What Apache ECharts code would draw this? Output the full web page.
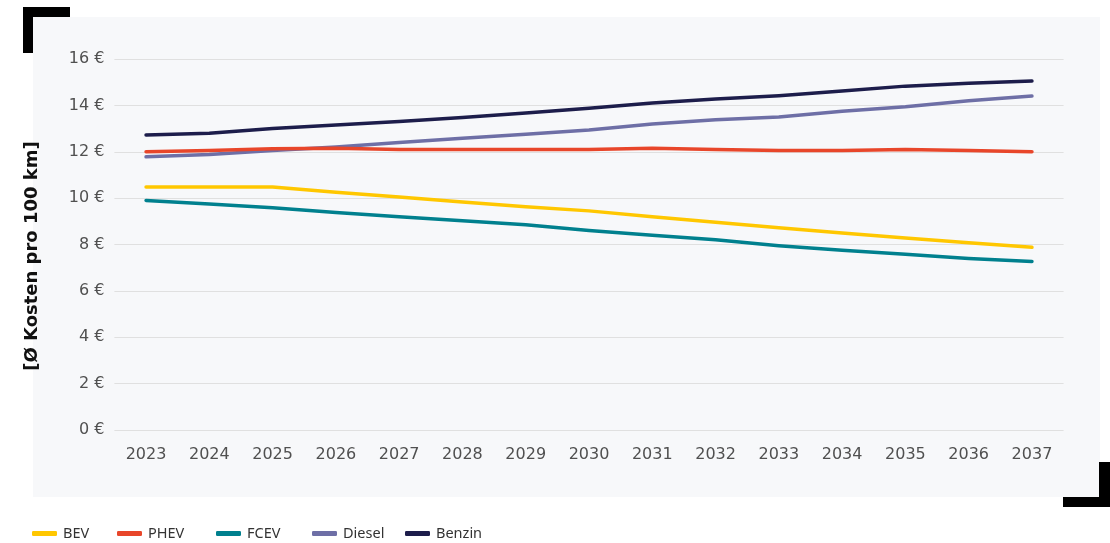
<!DOCTYPE html>
<html><head><meta charset="utf-8">
<script src="https://cdn.jsdelivr.net/npm/echarts@6/dist/echarts.min.js"></script>
<style>html,body{margin:0;padding:0;background:#fff}#c{width:1110px;height:543px}</style>
</head><body><div id="c"></div>
<script>
const years = ['2023','2024','2025','2026','2027','2028','2029','2030','2031','2032','2033','2034','2035','2036','2037'];
const bev    = [10.48,10.48,10.48,10.25,10.05,9.83,9.63,9.45,9.2,8.96,8.72,8.5,8.28,8.08,7.88];
const phev   = [12.0,12.05,12.13,12.15,12.1,12.1,12.1,12.1,12.15,12.1,12.05,12.05,12.1,12.05,12.0];
const fcev   = [9.9,9.75,9.58,9.38,9.2,9.02,8.85,8.6,8.4,8.2,7.95,7.75,7.58,7.4,7.27];
const diesel = [11.78,11.88,12.05,12.2,12.4,12.58,12.75,12.94,13.2,13.38,13.5,13.75,13.94,14.2,14.4];
const benzin = [12.72,12.8,13.0,13.15,13.3,13.48,13.67,13.88,14.1,14.27,14.42,14.62,14.83,14.95,15.05];
const yTicks = [0,2,4,6,8,10,12,14,16];
const names = ['BEV','PHEV','FCEV','Diesel','Benzin'];
const colors = ['#ffc700','#e8462a','#00808e','#6e6fa6','#1d1d4b'];
const values = [bev, phev, fcev, diesel, benzin];
const legendLeft = [32,117,216,312,405];

const chart = echarts.init(document.getElementById('c'), null, {renderer:'canvas'});
const series = names.map((n,i)=>({
  name:n, type:'line', data:values[i], symbol:'none', smooth:false,
  lineStyle:{width:3.5, color:colors[i], cap:'round', join:'round'},
  itemStyle:{color:colors[i]}, z: 2 + (i===1?1:0)
}));
const legends = names.map((n,i)=>({
  data:[n], left:legendLeft[i], top:526, itemWidth:25, itemHeight:5, icon:'roundRect',
  itemGap:0, padding:0, selectedMode:false,
  textStyle:{fontFamily:'Noto Sans', fontSize:14.5, color:'#333', padding:[0,0,0,1]}
}));
chart.setOption({
  animation:false,
  grid:{left:114.4, right:46.4, top:59, bottom:113},
  graphic:[
    {type:'rect', z:-100, shape:{x:33,y:17,width:1067,height:480}, style:{fill:'#f7f8fa'}},
    {type:'rect', z:100, shape:{x:23,y:7,width:47,height:10}, style:{fill:'#000'}},
    {type:'rect', z:100, shape:{x:23,y:7,width:10,height:46}, style:{fill:'#000'}},
    {type:'rect', z:100, shape:{x:1099,y:462,width:11,height:45}, style:{fill:'#000'}},
    {type:'rect', z:100, shape:{x:1063,y:497,width:47,height:10}, style:{fill:'#000'}},
    {type:'text', z:100, x:32, y:256, rotation:Math.PI/2,
     style:{text:'[Ø Kosten pro 100 km]', fontFamily:'DejaVu Sans', fontWeight:'bold', fontSize:18,
            fill:'#111', textAlign:'center', textVerticalAlign:'middle'}}
  ],
  legend:legends,
  xAxis:{type:'category', data:years, boundaryGap:true,
    axisLine:{show:false}, axisTick:{show:false},
    axisLabel:{margin:17, fontFamily:'DejaVu Sans', fontSize:16, color:'#505050'}},
  yAxis:{type:'value', min:0, max:16, interval:2,
    axisLine:{show:false}, axisTick:{show:false},
    splitLine:{lineStyle:{color:'#e0e0e0', width:1}},
    axisLabel:{margin:10, fontFamily:'DejaVu Sans', fontSize:16, color:'#505050',
      formatter:v=> yTicks.includes(v) ? v+' €' : ''}},
  series
});
</script></body></html>
